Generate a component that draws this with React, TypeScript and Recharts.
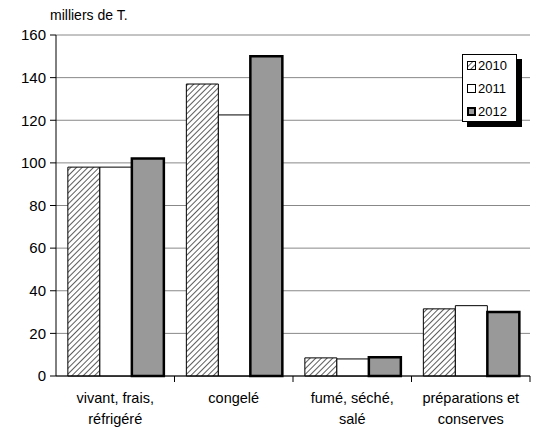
import React from 'react';
import { BarChart, Bar, XAxis, YAxis, CartesianGrid } from 'recharts';

const categories = ['vivant, frais,|réfrigéré', 'congelé', 'fumé, séché,|salé', 'préparations et|conserves'];
const values2010 = [98, 137, 8.5, 31.5];
const values2011 = [98, 122.5, 8, 33];
const values2012 = [102, 150, 8.8, 30];
const yTicks = [0, 20, 40, 60, 80, 100, 120, 140, 160];

const data = categories.map((name, i) => ({
  name,
  y2010: values2010[i],
  y2011: values2011[i],
  y2012: values2012[i],
}));

const FONT = '"Liberation Sans", Arial, sans-serif';

const CategoryTick = (props: any) => {
  const { x, y, payload } = props;
  const lines = String(payload.value).split('|');
  const half = payload.offset || 59;
  return (
    <g>
      <line x1={x + half} y1={y - 8} x2={x + half} y2={y - 2} stroke="#000" />
      {lines.map((l, i) => (
        <text key={i} x={x} y={y + 19 + i * 21} textAnchor="middle" fontSize={14.5} fontFamily={FONT} fill="#000">
          {l}
        </text>
      ))}
    </g>
  );
};

const swatch = (key: string) => {
  if (key === 'y2010') return <svg width={9} height={9}><rect x={0.5} y={0.5} width={8} height={8} fill="url(#hatch)" stroke="#000" /></svg>;
  if (key === 'y2011') return <svg width={9} height={9}><rect x={0.5} y={0.5} width={8} height={8} fill="#fff" stroke="#000" /></svg>;
  return <svg width={9} height={9}><rect x={1} y={1} width={7} height={7} fill="#999" stroke="#000" strokeWidth={2} /></svg>;
};

const LegendBox = () => (
  <div style={{ position: 'absolute', left: 462, top: 54, width: 61, height: 74 }}>
    <div style={{ position: 'absolute', left: 5, top: 5, width: 55, height: 68, background: '#000' }} />
    <div style={{ position: 'absolute', left: 0, top: 0, width: 53, height: 66, background: '#fff', border: '1px solid #000', fontFamily: FONT, fontSize: 13 }}>
      {[['y2010', '2010'], ['y2011', '2011'], ['y2012', '2012']].map(([k, label], i) => (
        <div key={k} style={{ position: 'absolute', left: 4, top: 3 + i * 23, display: 'flex', alignItems: 'center', gap: 2 }}>
          {swatch(k)}
          <span>{label}</span>
        </div>
      ))}
    </div>
  </div>
);

export default function App() {
  return (
    <div style={{ position: 'absolute', left: 0, top: 0, width: 541, height: 428, background: '#fff' }}>
      <div style={{ position: 'absolute', left: 50, top: 7, fontFamily: FONT, fontSize: 14 }}>milliers de T.</div>
      <BarChart width={541} height={428} data={data} margin={{ top: 35, right: 11, bottom: 0, left: 0 }} barCategoryGap="10%" barGap={0}>
        <defs>
          <pattern id="hatch" patternUnits="userSpaceOnUse" width={4} height={4} patternTransform="rotate(45)">
            <rect width={4} height={4} fill="#fff" />
            <line x1={0} y1={0} x2={0} y2={4} stroke="#333" strokeWidth={1.6} />
          </pattern>
        </defs>
        <CartesianGrid vertical={false} stroke="#888" />
        <XAxis dataKey="name" interval={0} tick={<CategoryTick />} tickLine={false} axisLine={{ stroke: '#000' }} height={52} />
        <YAxis
          domain={[0, 160]}
          ticks={yTicks}
          width={56}
          tickSize={6}
          tickMargin={4}
          axisLine={{ stroke: '#000' }}
          tickLine={{ stroke: '#000' }}
          tick={{ fontSize: 15, fill: '#000', fontFamily: FONT }}
        />
        <Bar dataKey="y2010" fill="url(#hatch)" stroke="#000" strokeWidth={1} isAnimationActive={false} />
        <Bar dataKey="y2011" fill="#fff" stroke="#000" strokeWidth={1} isAnimationActive={false} />
        <Bar dataKey="y2012" fill="#999" stroke="#000" strokeWidth={2.5} isAnimationActive={false} />
      </BarChart>
      <LegendBox />
    </div>
  );
}
